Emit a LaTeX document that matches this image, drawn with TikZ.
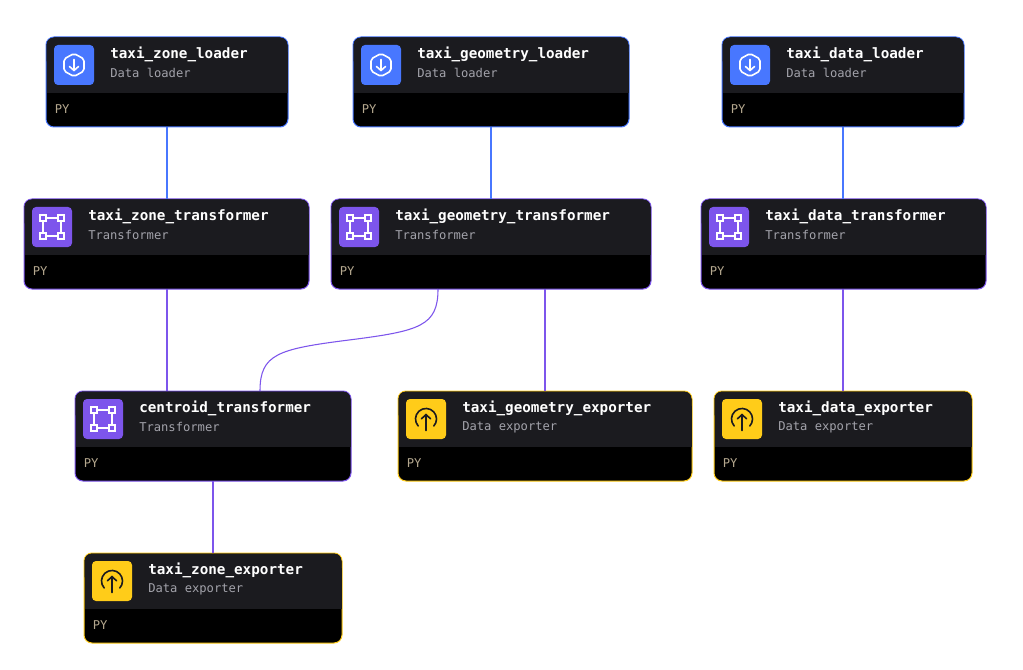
\documentclass[tikz,border=0pt]{standalone}
\usepackage{fontspec}
\setmonofont{DejaVu Sans Mono}
\definecolor{loaderblue}{HTML}{4877FF}
\definecolor{transpurple}{HTML}{7D55EC}
\definecolor{exportyellow}{HTML}{FFCC19}
\definecolor{headgray}{HTML}{1B1B1F}
\definecolor{subgray}{HTML}{A3A3AB}
\definecolor{pytan}{HTML}{B5A88F}
\definecolor{icondark}{HTML}{1B1B1F}
\tikzset{
  card/.style={draw=#1, fill=black, line width=0.75pt, rounded corners=6pt, anchor=north west,
    inner sep=0pt, outer sep=0pt, minimum height=67.5pt},
  iconbox/.style={fill=#1, rounded corners=3pt, anchor=north west, inner sep=0pt, outer sep=0pt,
    minimum width=30pt, minimum height=30pt},
  titletext/.style={anchor=west, inner sep=0pt, text=white, font=\ttfamily\bfseries\fontsize{10.7}{12}\selectfont},
  subtext/.style={anchor=west, inner sep=0pt, text=subgray, font=\ttfamily\fontsize{9.1}{11}\selectfont},
  pytext/.style={anchor=west, inner sep=0pt, text=pytan, font=\ttfamily\fontsize{9.1}{11}\selectfont},
  edge/.style={draw=#1, line width=0.8pt},
  loadericon/.pic={
    \draw [white, line width=1.2pt, rounded corners=1.5pt, line join=round]
      (0,-11.5) -- (10,-6) -- (10,6) -- (0,11.5) -- (-10,6) -- (-10,-6) -- cycle;
    \draw [white, line width=1.2pt, line cap=round] (0,-5.5) -- (0,5.5);
    \draw [white, line width=1.2pt, line cap=round, line join=round] (-4.5,1.5) -- (0,5.5) -- (4.5,1.5);
  },
  transicon/.pic={
    \draw [white, line width=1.3pt] (-9,-9) rectangle (9,9);
    \foreach \cx/\cy in {-9/-9, 9/-9, -9/9, 9/9}
      \draw [white, fill=transpurple, line width=1.3pt] (\cx-2.7,\cy-2.7) rectangle (\cx+2.7,\cy+2.7);
  },
  exporticon/.pic={
    \draw [icondark, line width=1.2pt, line cap=round] (-7.8,7) arc [start angle=138, end angle=402, radius=10.5];
    \draw [icondark, line width=1.2pt, line cap=round] (0,11.5) -- (0,-4.5);
    \draw [icondark, line width=1.2pt, line cap=round, line join=round] (-4.5,-0.2) -- (0,-4.5) -- (4.5,-0.2);
  },
}
% name, left, top, width, colour, icon, title, kind
\newcommand{\blockcard}[8]{
  \node (#1) [card=#5, minimum width={#4*0.75pt}] at (#2,#3) {};
  \fill [headgray, rounded corners=5.5pt] (#2+0.5,#3+0.5) rectangle (#2+#4-0.5,#3+30);
  \fill [headgray] (#2+0.5,#3+15) rectangle (#2+#4-0.5,#3+56);
  \node (#1icon) [iconbox=#5] at (#2+8,#3+8) {};
  \pic at (#2+28,#3+28) {#6};
  \node (#1title) [titletext] at (#2+64,#3+17.8) {#7};
  \node (#1kind) [subtext] at (#2+64,#3+36) {#8};
  \node (#1lang) [pytext] at (#2+8.5,#3+72) {PY};
}
\begin{document}
\begin{tikzpicture}[x=0.75pt, y=-0.75pt]
  \useasboundingbox [fill=white] (0,0) rectangle (1023,670);

  \blockcard{zoneload}{46}{37}{242}{loaderblue}{loadericon}{taxi\_zone\_loader}{Data loader}
  \blockcard{geoload}{353}{37}{276}{loaderblue}{loadericon}{taxi\_geometry\_loader}{Data loader}
  \blockcard{dataload}{722}{37}{242}{loaderblue}{loadericon}{taxi\_data\_loader}{Data loader}

  \blockcard{zonetrans}{24}{199}{285}{transpurple}{transicon}{taxi\_zone\_transformer}{Transformer}
  \blockcard{geotrans}{331}{199}{320}{transpurple}{transicon}{taxi\_geometry\_transformer}{Transformer}
  \blockcard{datatrans}{701}{199}{285}{transpurple}{transicon}{taxi\_data\_transformer}{Transformer}

  \blockcard{centroid}{75}{391}{276}{transpurple}{transicon}{centroid\_transformer}{Transformer}
  \blockcard{geoexport}{398}{391}{294}{exportyellow}{exporticon}{taxi\_geometry\_exporter}{Data exporter}
  \blockcard{dataexport}{714}{391}{258}{exportyellow}{exporticon}{taxi\_data\_exporter}{Data exporter}
  \blockcard{zoneexport}{84}{553}{258}{exportyellow}{exporticon}{taxi\_zone\_exporter}{Data exporter}

  \draw [edge=loaderblue] (zoneload.south) -- (zoneload.south |- zonetrans.north);
  \draw [edge=loaderblue] (geoload.south) -- (geotrans.north);
  \draw [edge=loaderblue] (dataload.south) -- (dataload.south |- datatrans.north);

  \draw [edge=transpurple] (zoneload.south |- zonetrans.south) -- (zoneload.south |- centroid.north);
  \draw [edge=transpurple] (geoexport.north |- geotrans.south) -- (geoexport.north);
  \draw [edge=transpurple] (dataexport.north |- datatrans.south) -- (dataexport.north);
  \draw [edge=transpurple] (centroid.south) -- (centroid.south |- zoneexport.north);

  % curved link from the geometry transformer
  \coordinate (geoout) at ([xshift=-39.75pt]geotrans.south);
  \coordinate (centin) at ([xshift=35.25pt]centroid.north);
  \coordinate (curvemid) at (349,340);
  \draw [edge=transpurple] (geoout) .. controls (438,326) and (420,331) .. (curvemid)
    .. controls (278,349) and (260,354) .. (centin);
\end{tikzpicture}
\end{document}
